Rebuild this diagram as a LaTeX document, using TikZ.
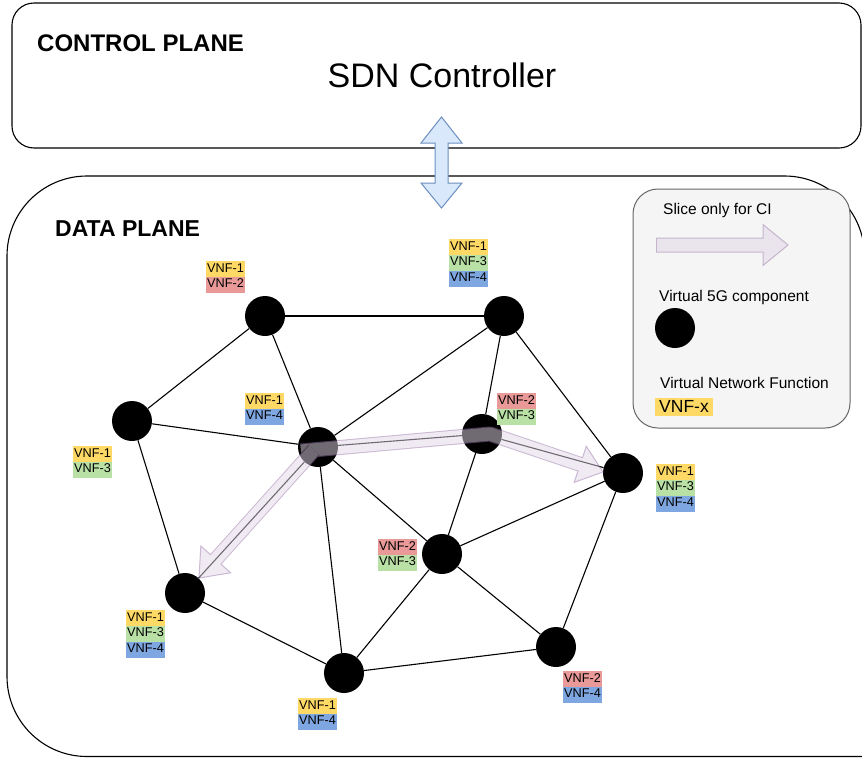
\documentclass[tikz,border=0pt]{standalone}
\usepackage{fontspec}
\setmainfont{Liberation Sans}
\usetikzlibrary{calc}

\definecolor{vnfyellow}{HTML}{FFD966}
\definecolor{vnfred}{HTML}{EA9999}
\definecolor{vnfgreen}{HTML}{B9E0A5}
\definecolor{vnfblue}{HTML}{7EA6E0}
\definecolor{slicefill}{HTML}{E1D5E7}
\definecolor{slicedraw}{HTML}{9673A6}
\definecolor{linkfill}{HTML}{DAE8FC}
\definecolor{linkdraw}{HTML}{6C8EBF}
\definecolor{legendfill}{HTML}{F5F5F5}
\definecolor{legenddraw}{HTML}{666666}

\begin{document}
\begin{tikzpicture}[x=1pt, y=-1pt,
        comp/.style={circle, fill=black, minimum size=40pt, inner sep=0pt},
        link/.style={line width=1.1pt},
        plane/.style={draw, line width=1.1pt},
        vnf/.style={anchor=north west, inner xsep=1pt, inner ysep=0pt,
            text height=10.8pt, text depth=4.7pt, font=\fontsize{12.7}{15}\selectfont},
        vone/.style={vnf, fill=vnfyellow},
        vtwo/.style={vnf, fill=vnfred},
        vthree/.style={vnf, fill=vnfgreen},
        vfour/.style={vnf, fill=vnfblue},
        legendtext/.style={anchor=base west, inner sep=0pt, font=\fontsize{15.5}{18}\selectfont},
        slicehead/.style={fill=slicefill, draw=slicedraw, line width=1pt, line join=miter},
        sliceout/.style={draw=slicedraw, line width=15pt, line join=round},
        slicein/.style={draw=slicefill, line width=13pt, line join=round}
    ]
        \useasboundingbox (0,0) rectangle (862,758);

        % Planes (the data plane runs off the right edge)
        \draw[plane, rounded corners=80pt] (864.5,262) |- (7,176) |- (900,756.5);
        \draw[plane, rounded corners=22pt] (12,3) rectangle (861,148);
        \node[anchor=base west, inner sep=0pt, font=\fontsize{24}{28}\selectfont\bfseries] (cptitle) at (37,51) {CONTROL PLANE};
        \node[anchor=base, inner sep=0pt, font=\fontsize{34}{40}\selectfont] (sdn) at (442,87) {SDN Controller};
        \node[anchor=base west, inner sep=0pt, font=\fontsize{23}{27}\selectfont\bfseries] (dptitle) at (55,236) {DATA PLANE};

        % Legend box
        \draw[fill=legendfill, draw=legenddraw, line width=1pt, rounded corners=25pt] (633,189) rectangle (850,428);

        % Virtual 5G components
        \node[comp] (A) at (265,316) {};
        \node[comp] (B) at (504,316) {};
        \node[comp] (C) at (132,421) {};
        \node[comp] (D) at (318,447) {};
        \node[comp] (E) at (482,434) {};
        \node[comp] (F) at (623,473) {};
        \node[comp] (G) at (442,554) {};
        \node[comp] (H) at (185,593) {};
        \node[comp] (I) at (344,673) {};
        \node[comp] (J) at (556,647) {};

        % Links between components
        \foreach \a/\b in {A/B, A/C, A/D, B/D, B/E, B/F, C/D, C/H, D/E, D/G,
                           D/H, D/I, E/F, E/G, F/G, F/J, G/I, G/J, H/I, I/J}
            \draw[link] (\a) -- (\b);

        % VNF labels
        \node[vone] (A1) at (206,261) {VNF-1};
        \node[vtwo] (A2) at (A1.south west) {VNF-2};

        \node[vone] (B1) at (449,239) {VNF-1};
        \node[vthree] (B2) at (B1.south west) {VNF-3};
        \node[vfour] (B3) at (B2.south west) {VNF-4};

        \node[vone] (C1) at (73,446) {VNF-1};
        \node[vthree] (C2) at (C1.south west) {VNF-3};

        \node[vone] (D1) at (245,393) {VNF-1};
        \node[vfour] (D2) at (D1.south west) {VNF-4};

        \node[vtwo] (E1) at (497,393) {VNF-2};
        \node[vthree] (E2) at (E1.south west) {VNF-3};

        \node[vone] (F1) at (656,464) {VNF-1};
        \node[vthree] (F2) at (F1.south west) {VNF-3};
        \node[vfour] (F3) at (F2.south west) {VNF-4};

        \node[vtwo] (G1) at (378,539) {VNF-2};
        \node[vthree] (G2) at (G1.south west) {VNF-3};

        \node[vone] (H1) at (126,610) {VNF-1};
        \node[vthree] (H2) at (H1.south west) {VNF-3};
        \node[vfour] (H3) at (H2.south west) {VNF-4};

        \node[vone] (I1) at (298,698) {VNF-1};
        \node[vfour] (I2) at (I1.south west) {VNF-4};

        \node[vtwo] (J1) at (563,671) {VNF-2};
        \node[vfour] (J2) at (J1.south west) {VNF-4};

        % Slice for CI
        \coordinate (s1) at ($(D)+(-17,4)$);
        \coordinate (s1m) at ($(E)+(8,0)$);
        \coordinate (s1t) at ($(F)+(-20,-1)$);
        \coordinate (s1b) at ($(s1t)!24pt!(s1m)$);
        \coordinate (s2) at ($(D)+(-4,3)$);
        \coordinate (s2t) at ($(H)+(14,-15)$);
        \coordinate (s2b) at ($(s2t)!25pt!(s2)$);
        \begin{scope}[transparency group, opacity=0.5]
            \filldraw[slicehead] (s1t) -- ($(s1b)!19pt!90:(s1t)$) -- ($(s1b)!19pt!-90:(s1t)$) -- cycle;
            \draw[sliceout] (s1) -- (s1m) -- (s1b);
            \draw[slicein] (s1) -- (s1m) -- ($(s1t)!22pt!(s1m)$);
            \filldraw[slicehead] (s2t) -- ($(s2b)!20pt!90:(s2t)$) -- ($(s2b)!20pt!-90:(s2t)$) -- cycle;
            \draw[sliceout] (s2) -- (s2b);
            \draw[slicein] (s2) -- ($(s2t)!23pt!(s2)$);
        \end{scope}

        % Legend content
        \node[legendtext] (lslice) at (663,214) {Slice only for CI};
        \coordinate (l0) at (656,245);
        \coordinate (lt) at (788,245);
        \coordinate (lb) at ($(lt)!25pt!(l0)$);
        \begin{scope}[transparency group, opacity=0.5]
            \filldraw[slicehead] (lt) -- ($(lb)!20.5pt!90:(lt)$) -- ($(lb)!20.5pt!-90:(lt)$) -- cycle;
            \draw[sliceout, line join=miter] (l0) -- (lb);
            \draw[slicein] ($(l0)+(1,0)$) -- ($(lt)!23pt!(l0)$);
        \end{scope}
        \node[legendtext] (lcomp) at (659,301) {Virtual 5G component};
        \node[comp] (lnode) at (675,328) {};
        \node[legendtext] (lfunc) at (660,388) {Virtual Network Function};
        \node[anchor=north west, fill=vnfyellow, inner xsep=4pt, inner ysep=0pt,
            text height=14pt, text depth=4pt, font=\fontsize{17.5}{20}\selectfont] (lvnf) at (655,398) {VNF-x};

        % Link between control plane and data plane
        \draw[fill=linkfill, draw=linkdraw, line width=1pt, line join=miter]
            (441.5,117) -- (462,143) -- (448,143) -- (448,183) -- (462,183) -- (441.5,208)
            -- (421,183) -- (435,183) -- (435,143) -- (421,143) -- cycle;

    \end{tikzpicture}
\end{document}
